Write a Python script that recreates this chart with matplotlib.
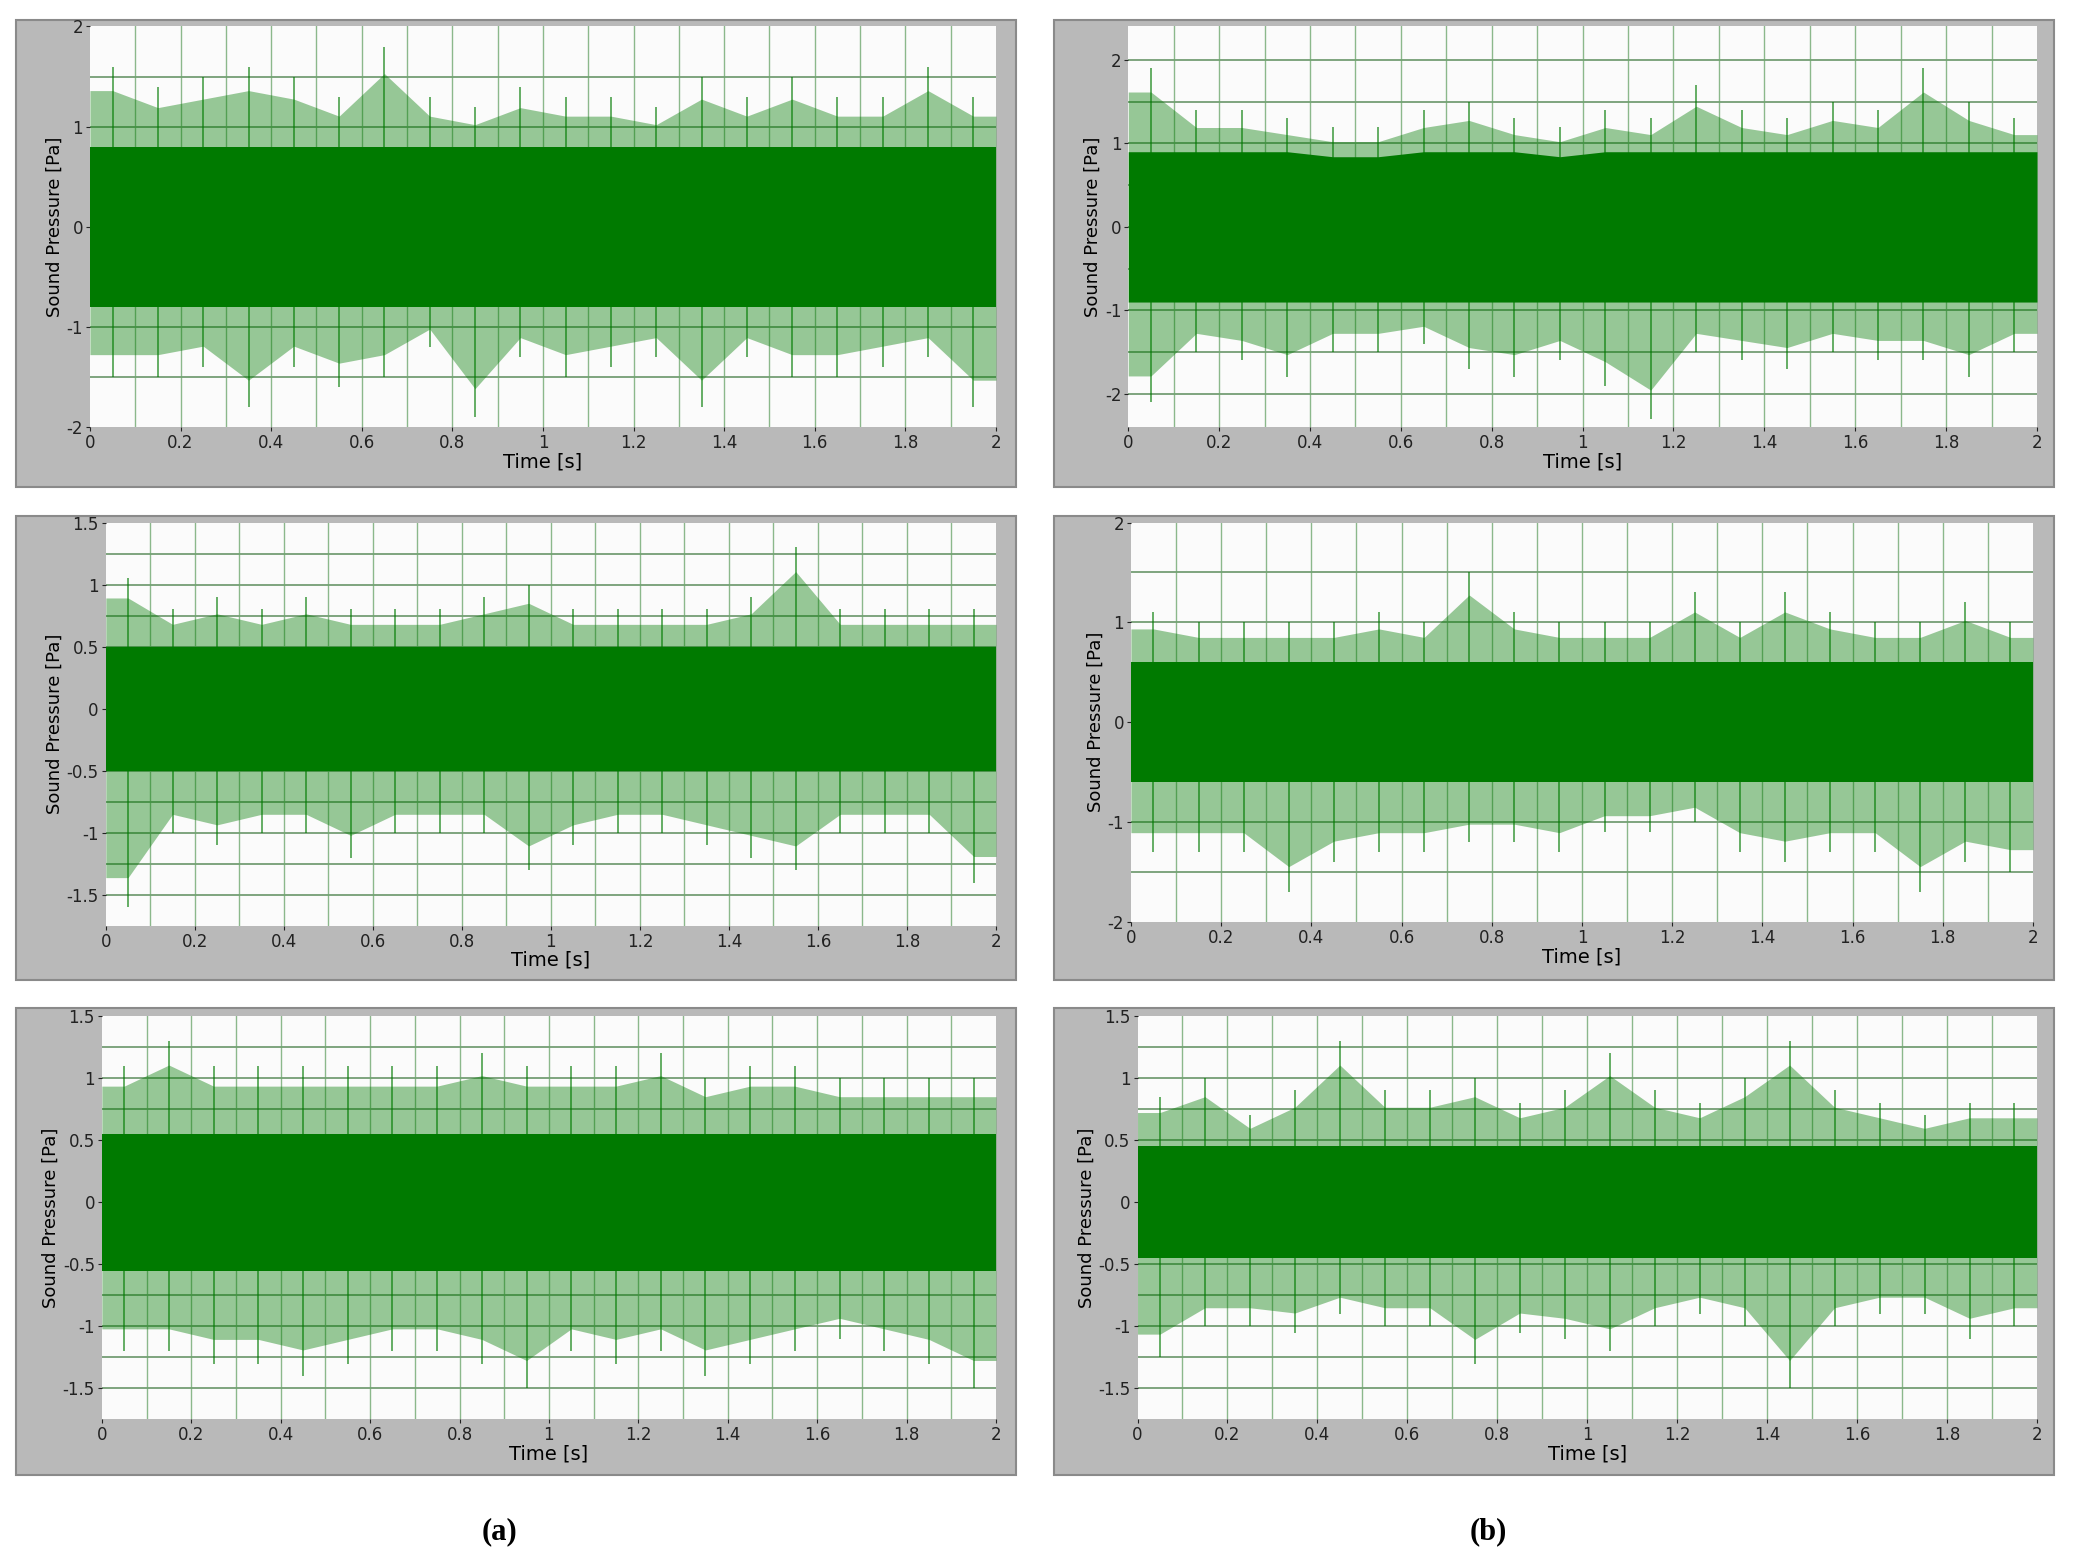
import numpy as np
import matplotlib.pyplot as plt
from matplotlib.patches import Rectangle

# envelope peaks read per 0.1 s bin from the picture (plotted at bin centres)
t_mid = np.round(np.arange(0.05, 2.0, 0.1), 2)

up_a1 = [1.6, 1.4, 1.5, 1.6, 1.5, 1.3, 1.8, 1.3, 1.2, 1.4, 1.3, 1.3, 1.2, 1.5, 1.3, 1.5, 1.3, 1.3, 1.6, 1.3]
lo_a1 = [-1.5, -1.5, -1.4, -1.8, -1.4, -1.6, -1.5, -1.2, -1.9, -1.3, -1.5, -1.4, -1.3, -1.8, -1.3, -1.5, -1.5, -1.4, -1.3, -1.8]
up_b1 = [1.9, 1.4, 1.4, 1.3, 1.2, 1.2, 1.4, 1.5, 1.3, 1.2, 1.4, 1.3, 1.7, 1.4, 1.3, 1.5, 1.4, 1.9, 1.5, 1.3]
lo_b1 = [-2.1, -1.5, -1.6, -1.8, -1.5, -1.5, -1.4, -1.7, -1.8, -1.6, -1.9, -2.3, -1.5, -1.6, -1.7, -1.5, -1.6, -1.6, -1.8, -1.5]
up_a2 = [1.05, 0.8, 0.9, 0.8, 0.9, 0.8, 0.8, 0.8, 0.9, 1.0, 0.8, 0.8, 0.8, 0.8, 0.9, 1.3, 0.8, 0.8, 0.8, 0.8]
lo_a2 = [-1.6, -1.0, -1.1, -1.0, -1.0, -1.2, -1.0, -1.0, -1.0, -1.3, -1.1, -1.0, -1.0, -1.1, -1.2, -1.3, -1.0, -1.0, -1.0, -1.4]
up_b2 = [1.1, 1.0, 1.0, 1.0, 1.0, 1.1, 1.0, 1.5, 1.1, 1.0, 1.0, 1.0, 1.3, 1.0, 1.3, 1.1, 1.0, 1.0, 1.2, 1.0]
lo_b2 = [-1.3, -1.3, -1.3, -1.7, -1.4, -1.3, -1.3, -1.2, -1.2, -1.3, -1.1, -1.1, -1.0, -1.3, -1.4, -1.3, -1.3, -1.7, -1.4, -1.5]
up_a3 = [1.1, 1.3, 1.1, 1.1, 1.1, 1.1, 1.1, 1.1, 1.2, 1.1, 1.1, 1.1, 1.2, 1.0, 1.1, 1.1, 1.0, 1.0, 1.0, 1.0]
lo_a3 = [-1.2, -1.2, -1.3, -1.3, -1.4, -1.3, -1.2, -1.2, -1.3, -1.5, -1.2, -1.3, -1.2, -1.4, -1.3, -1.2, -1.1, -1.2, -1.3, -1.5]
up_b3 = [0.85, 1.0, 0.7, 0.9, 1.3, 0.9, 0.9, 1.0, 0.8, 0.9, 1.2, 0.9, 0.8, 1.0, 1.3, 0.9, 0.8, 0.7, 0.8, 0.8]
lo_b3 = [-1.25, -1.0, -1.0, -1.05, -0.9, -1.0, -1.0, -1.3, -1.05, -1.1, -1.2, -1.0, -0.9, -1.0, -1.5, -1.0, -0.9, -0.9, -1.1, -1.0]
core = [0.8, 0.9, 0.5, 0.6, 0.55, 0.45]

ylims = [(-2, 2), (-2.4, 2.4), (-1.75, 1.5), (-2, 2), (-1.75, 1.5), (-1.75, 1.5)]
ymajor = [1, 1, 0.5, 1, 0.5, 0.5]
ygrid = [0.5, 0.5, 0.25, 0.5, 0.25, 0.25]
uppers = [up_a1, up_b1, up_a2, up_b2, up_a3, up_b3]
lowers = [lo_a1, lo_b1, lo_a2, lo_b2, lo_a3, lo_b3]

W, H = 1568.0, 1183.0
frames = [(12, 15, 768, 368), (797, 15, 1553, 368), (12, 390, 768, 741),
          (797, 390, 1553, 741), (12, 762, 768, 1115), (797, 762, 1553, 1115)]
areas = [(68, 20, 753, 323), (853, 20, 1540, 323), (80, 395, 753, 700),
         (855, 395, 1537, 697), (77, 768, 753, 1073), (860, 768, 1540, 1073)]

fig = plt.figure(figsize=(20.74, 15.65), dpi=100)
green = '#007a00'
t_fill = np.r_[0, t_mid, 2]

for i in range(6):
    x0, y0, x1, y1 = frames[i]
    fig.patches.append(Rectangle((x0 / W, 1 - y1 / H), (x1 - x0) / W, (y1 - y0) / H,
                                 transform=fig.transFigure, facecolor='#b9b9b9',
                                 edgecolor='#8a8a8a', lw=1.5, zorder=-5))
    x0, y0, x1, y1 = areas[i]
    ax = fig.add_axes([x0 / W, 1 - y1 / H, (x1 - x0) / W, (y1 - y0) / H])
    ax.set_facecolor('#fbfbfb')
    lo, hi = ylims[i]
    ax.set_xlim(0, 2)
    ax.set_ylim(lo, hi)
    up = np.array(uppers[i])
    dn = np.array(lowers[i])
    # pad the envelope out to the axis edges with the first/last bin values
    up_f = np.r_[up[0], up, up[-1]]
    dn_f = np.r_[dn[0], dn, dn[-1]]
    ax.fill_between(t_fill, dn_f * 0.85, up_f * 0.85, color=green, alpha=0.4, lw=0, zorder=2)
    ax.vlines(t_mid, dn, up, color=green, lw=1.4, alpha=0.6, zorder=2)
    ax.fill_between(t_fill, -np.minimum(core[i], -dn_f * 0.7), np.minimum(core[i], up_f * 0.7),
                    color=green, lw=0, zorder=3)
    for g in np.arange(-3, 3.01, ygrid[i]):
        if lo < g < hi:
            ax.axhline(g, color='#5f8f5f', lw=1.4, alpha=0.8, zorder=1)
    for g in np.round(np.arange(0.1, 2.0, 0.1), 2):
        ax.axvline(g, color='#6fa86f', lw=1.0, alpha=0.8, zorder=1)
    ax.set_xticks(np.round(np.arange(0, 2.01, 0.2), 1))
    ax.set_xticklabels(['0', '0.2', '0.4', '0.6', '0.8', '1', '1.2', '1.4', '1.6', '1.8', '2'])
    yt = np.arange(np.ceil(lo / ymajor[i]) * ymajor[i], hi + 1e-9, ymajor[i])
    ax.set_yticks(yt)
    ax.set_yticklabels(['%g' % v for v in yt])
    ax.tick_params(labelsize=12, length=3, pad=2, colors='#222222')
    for s in ax.spines.values():
        s.set_visible(False)
    ax.set_xlabel('Time [s]', fontsize=14, labelpad=0)
    ax.set_ylabel('Sound Pressure [Pa]', fontsize=13, labelpad=2)

fig.text(378 / W, 1 - 1158 / H, '(a)', ha='center', va='center', fontsize=22,
         fontweight='bold', family='Liberation Serif')
fig.text(1125 / W, 1 - 1158 / H, '(b)', ha='center', va='center', fontsize=22,
         fontweight='bold', family='Liberation Serif')

plt.savefig('out.png', dpi=100, facecolor='white')
